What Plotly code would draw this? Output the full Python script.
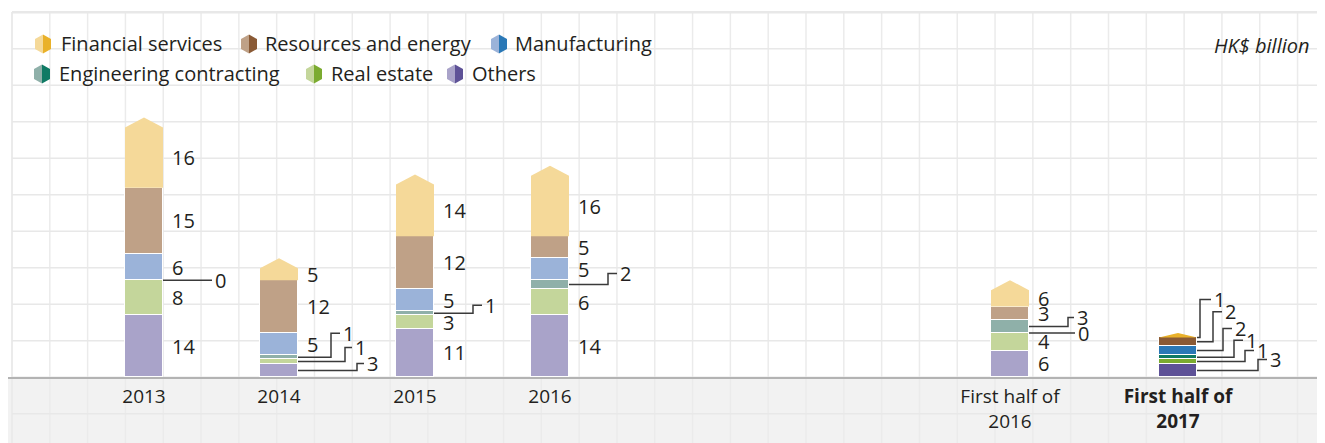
import plotly.graph_objects as go

# ---------------- data ----------------
categories = ["2013", "2014", "2015", "2016", "First half of 2016", "First half of 2017"]
tick_labels = ["2013", "2014", "2015", "2016", "First half of<br>2016",
               "<b>First half of</b><br><b>2017</b>"]
others = [14, 3, 11, 14, 6, 3]
real_estate = [8, 1, 3, 6, 4, 1]
engineering = [0, 1, 1, 2, 3, 1]
manufacturing = [6, 5, 5, 5, 0, 2]
resources = [15, 12, 12, 5, 3, 2]
financial = [16, 5, 14, 16, 6, 1]
highlight = [False, False, False, False, False, True]

# ---------------- styles / layout constants ----------------
W, H = 1325, 443               # page size
OFF = 8                        # page body margin the figure sits inside
FW, FH = W - OFF, H - OFF      # figure size
AXIS_PX = 377                  # page y of the baseline
PXU = 4.4                      # pixels per HK$ billion
BAR_W = 38
TIP_U = 10 / PXU               # pentagon tip height in value units
bar_x = [144, 279, 415, 550, 1010, 1178]   # page x of bar centres
FONT = "Open Sans"
TXT = "#231f20"
FS = 20

series = [
    ("Others", others, "#a9a3c9", "#5e5297"),
    ("Real estate", real_estate, "#c4d69b", "#7bab30"),
    ("Engineering contracting", engineering, "#8fb0a9", "#0f7a64"),
    ("Manufacturing", manufacturing, "#9bb3d9", "#2a78b6"),
    ("Resources and energy", resources, "#bfa187", "#8a5a35"),
    ("Financial services", financial, "#f5d999", "#e9b12a"),
]

# leader specs per bar: (series, dx px, rise px, top length px, anchor-series override)
leaders = {
    0: [("Engineering contracting", 49, 0, 0, None)],
    1: [("Engineering contracting", 33, 24, 9, None),
        ("Real estate", 47, 14, 7, None),
        ("Others", 59, 7, 7, None)],
    2: [("Engineering contracting", 39, 8, 9, None)],
    3: [("Engineering contracting", 39, 11, 9, None)],
    4: [("Engineering contracting", 39, 9, 6, None),
        ("Manufacturing", 46, 0, 0, "Engineering contracting")],
    5: [("Financial services", 3, 38, 11, None),
        ("Resources and energy", 16, 30, 9, None),
        ("Manufacturing", 26, 22, 9, None),
        ("Engineering contracting", 37, 17, 9, None),
        ("Real estate", 48, 11, 9, None),
        ("Others", 61, 11, 9, None)],
}

fig = go.Figure()

# ---------------- stacked bars ----------------
for name, vals, light, dark in series[:-1]:
    fig.add_trace(go.Bar(
        x=bar_x, y=[v if v else None for v in vals], width=BAR_W, name=name,
        marker=dict(color=[dark if h else light for h in highlight],
                    line=dict(color="white", width=1)),
        hoverinfo="skip", showlegend=False))

segs = []
for i in range(len(categories)):
    cum = 0
    d = {}
    for name, vals, _, _ in series:
        d[name] = (cum, cum + vals[i])
        cum += vals[i]
    segs.append(d)

# pentagon top (financial services)
fname = series[-1][0]
flight, fdark = series[-1][2], series[-1][3]
for i, xc in enumerate(bar_x):
    base, top = segs[i][fname]
    sh = max(base, top - TIP_U)
    xl, xr = xc - BAR_W / 2, xc + BAR_W / 2
    fig.add_trace(go.Scatter(
        x=[xl, xl, xc, xr, xr, xl], y=[base, sh, top, sh, base, base],
        mode="lines", fill="toself", fillcolor=fdark if highlight[i] else flight,
        line=dict(width=0), hoverinfo="skip", showlegend=False))

# ---------------- value labels & leaders ----------------
annotations = []
shapes = []


def seg_mid(i, name):
    base, top = segs[i][name]
    if name == fname:
        top = max(base, top - TIP_U)
    return (base + top) / 2


vals_by_name = {s[0]: s[1] for s in series}
for i, xc in enumerate(bar_x):
    xr = xc + BAR_W / 2
    lead_names = [l[0] for l in leaders.get(i, [])]
    for name, vals, _, _ in series:
        if name in lead_names:
            continue
        annotations.append(dict(x=xr + 7, y=seg_mid(i, name), xref="x", yref="y",
                                text=str(vals[i]), showarrow=False, xanchor="left",
                                yanchor="middle", font=dict(size=FS, color=TXT, family=FONT)))
    for name, dx, rise, tl, anchor in leaders.get(i, []):
        ya = segs[i][anchor][0] if anchor else seg_mid(i, name)
        yb = ya + rise / PXU
        if rise:
            path = f"M {xr},{ya} L {xr + dx},{ya} L {xr + dx},{yb} L {xr + dx + tl},{yb}"
            xend = xr + dx + tl
        else:
            path = f"M {xr},{ya} L {xr + dx},{ya}"
            xend = xr + dx
        shapes.append(dict(type="path", path=path, xref="x", yref="y",
                           line=dict(color="#3a3a3a", width=1.5), layer="above"))
        annotations.append(dict(x=xend + 1, y=yb, xref="x", yref="y",
                                text=str(vals_by_name[name][i]), showarrow=False,
                                xanchor="left", yanchor="middle",
                                font=dict(size=FS, color=TXT, family=FONT)))


# ---------------- page-pixel -> paper helpers ----------------
def px_x(px):
    return (px - OFF) / FW


def px_y(py):
    return (AXIS_PX - py) / (AXIS_PX - OFF)


# ---------------- background: band + grid ----------------
bg = [dict(type="rect", xref="paper", yref="paper", x0=px_x(OFF), x1=px_x(W),
           y0=px_y(378), y1=px_y(H), fillcolor="#f2f2f2", line=dict(width=0), layer="below")]
k = 0
while 12 + 37.81 * k <= W:
    gx = 12 + 37.81 * k
    bg.append(dict(type="line", xref="paper", yref="paper", x0=px_x(gx), x1=px_x(gx),
                   y0=px_y(12), y1=px_y(H), line=dict(color="#ebebeb", width=2 if k == 0 else 1.5),
                   layer="below"))
    k += 1
k = 0
while 12.2 + 36.5 * k <= H:
    gy = 12.2 + 36.5 * k
    bg.append(dict(type="line", xref="paper", yref="paper", x0=px_x(12), x1=px_x(W),
                   y0=px_y(gy), y1=px_y(gy), line=dict(color="#e8e8e8", width=2.5 if k == 0 else 1.5),
                   layer="below"))
    k += 1

# ---------------- legend (custom hexagons) ----------------
legend_items = [
    ("Financial services", 43, 44, 59),
    ("Resources and energy", 249, 44, 263),
    ("Manufacturing", 499, 44, 513),
    ("Engineering contracting", 42, 74, 57),
    ("Real estate", 314, 74, 329),
    ("Others", 455, 74, 470),
]
colors = {s[0]: (s[2], s[3]) for s in series}
for name, cx, cy, tx in legend_items:
    light, dark = colors[name]
    hw, hh, sl = 8, 9.5, 4.6
    left = [(cx, cy - hh), (cx - hw, cy - hh + sl), (cx - hw, cy + hh - sl), (cx, cy + hh)]
    right = [(cx, cy - hh), (cx + hw, cy - hh + sl), (cx + hw, cy + hh - sl), (cx, cy + hh)]
    for pts, col in ((left, light), (right, dark)):
        p = "M " + " L ".join(f"{px_x(a)},{px_y(b)}" for a, b in pts) + " Z"
        shapes.append(dict(type="path", path=p, xref="paper", yref="paper",
                           fillcolor=col, line=dict(width=0), layer="above"))
    annotations.append(dict(x=px_x(tx), y=px_y(cy), xref="paper", yref="paper", text=name,
                            showarrow=False, xanchor="left", yanchor="middle",
                            font=dict(size=FS, color=TXT, family=FONT)))

annotations.append(dict(x=px_x(1312), y=px_y(45), xref="paper", yref="paper",
                        text="<i>HK$ billion</i>", showarrow=False, xanchor="right",
                        yanchor="middle", font=dict(size=FS, color=TXT, family=FONT)))

fig.update_layout(
    width=FW, height=FH, margin=dict(l=0, r=0, t=0, b=H - AXIS_PX, pad=0),
    paper_bgcolor="white", plot_bgcolor="rgba(0,0,0,0)",
    barmode="stack", bargap=0, showlegend=False,
    shapes=bg + shapes, annotations=annotations,
    xaxis=dict(range=[OFF, W], showgrid=False, zeroline=False, showline=True,
               linecolor="#b3b3b3", linewidth=2, tickmode="array", tickvals=bar_x,
               ticktext=tick_labels, ticks="outside", ticklen=1, tickcolor="rgba(0,0,0,0)",
               tickfont=dict(size=19, color=TXT, family=FONT), fixedrange=True),
    yaxis=dict(range=[0, (AXIS_PX - OFF) / PXU], visible=False, fixedrange=True),
)

fig.write_html("out.html")
